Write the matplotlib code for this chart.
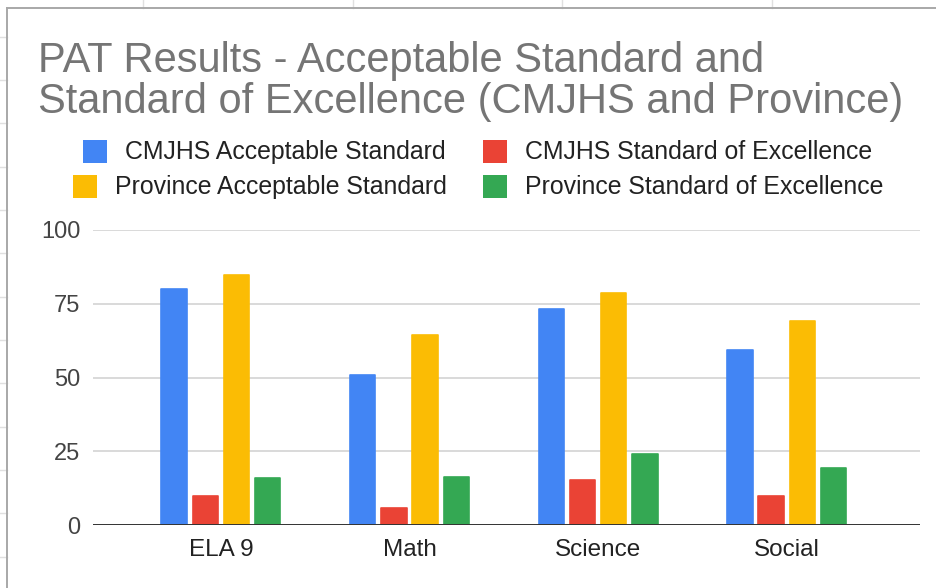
import matplotlib
matplotlib.use("Agg")
import matplotlib.pyplot as plt
import numpy as np
from matplotlib.patches import Rectangle
from matplotlib.lines import Line2D

# data
subjects = ["ELA 9", "Math", "Science", "Social"]
series_names = [
    "CMJHS Acceptable Standard",
    "CMJHS Standard of Excellence",
    "Province Acceptable Standard",
    "Province Standard of Excellence",
]
cmjhs_acceptable = [80, 51, 73.3, 59.3]
cmjhs_excellence = [10, 5.9, 15.1, 9.9]
prov_acceptable = [84.6, 64.3, 78.5, 69.3]
prov_excellence = [15.8, 16.4, 24.2, 19.2]
yticks = [0, 25, 50, 75, 100]

colors = ["#4285f4", "#ea4335", "#fbbc04", "#34a853"]
values = [cmjhs_acceptable, cmjhs_excellence, prov_acceptable, prov_excellence]

W, H = 937, 588
plt.rcParams["font.family"] = ["Liberation Sans", "DejaVu Sans"]
fig = plt.figure(figsize=(W / 100, H / 100), dpi=100)
fig.patch.set_facecolor("white")


def fx(px):
    return px / W


def fy(py):
    return 1 - py / H


# spreadsheet grid peeking out around the chart box
for x in [143, 353, 562, 772]:
    fig.add_artist(Line2D([fx(x), fx(x)], [fy(0), fy(8)], color="#e0e0e0", lw=1))
for y in [37, 80, 123, 167, 210, 253, 297, 340, 383, 427, 470, 513, 557]:
    fig.add_artist(Line2D([fx(0), fx(7)], [fy(y), fy(y)], color="#e0e0e0", lw=1))
# chart border
fig.add_artist(Line2D([fx(7), fx(7)], [fy(8), 0], color="#a8a8a8", lw=1.4))
fig.add_artist(Line2D([fx(7), 1], [fy(8), fy(8)], color="#a8a8a8", lw=1.4))

# title
fig.text(fx(38), fy(72), "PAT Results - Acceptable Standard and",
         fontsize=30, color="#757575", va="baseline", ha="left")
fig.text(fx(38), fy(113), "Standard of Excellence (CMJHS and Province)",
         fontsize=30, color="#757575", va="baseline", ha="left")

# legend, laid out like the Sheets one
leg = [
    (83, 140, 125, 152),
    (483, 140, 525, 152),
    (73, 175, 115, 187),
    (483, 175, 525, 187),
]
for (sx, sy, tx, ty), name, c in zip(leg, series_names, colors):
    fig.add_artist(Rectangle((fx(sx), fy(sy + 23)), 24 / W, 23 / H,
                             facecolor=c, edgecolor="none"))
    fig.text(fx(tx), fy(ty), name, fontsize=17.9, color="#222222",
             va="center", ha="left")

# plot area
ax = fig.add_axes([fx(93), fy(525), fx(920) - fx(93), fy(230) - fy(525)])
x = np.arange(len(subjects))
pitch = 0.1654
bw = 0.135
for i, (vals, c) in enumerate(zip(values, colors)):
    ax.bar(x + (i - 1.5) * pitch, vals, bw, color=c, edgecolor=c,
           linewidth=1.2, joinstyle="round", zorder=3)

ax.set_xlim(-0.678, 3.707)
ax.set_ylim(0, 100)
ax.set_yticks(yticks)
ax.set_yticklabels([str(t) for t in yticks])
ax.set_xticks(x)
ax.set_xticklabels(subjects)
ax.tick_params(axis="y", length=0, pad=9, labelsize=17, labelcolor="#444444")
ax.tick_params(axis="x", length=0, pad=10, labelsize=17.5, labelcolor="#222222")
ax.grid(axis="y", color="#d9d9d9", lw=1.4, zorder=0)
for s in ax.spines.values():
    s.set_visible(False)
ax.axhline(0, color="#333333", lw=1.4, zorder=4)
ax.set_facecolor("none")

fig.savefig("out.png", dpi=100)
